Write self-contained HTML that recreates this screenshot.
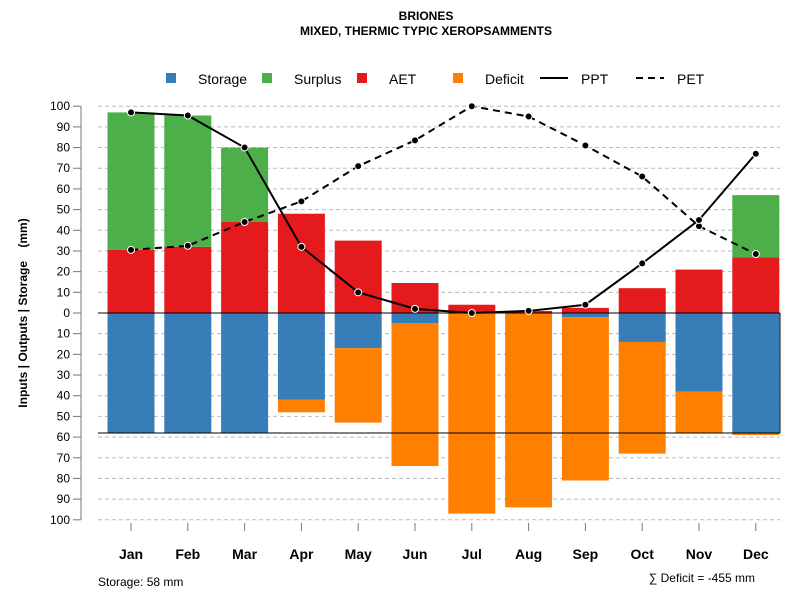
<!DOCTYPE html>
<html><head><meta charset="utf-8"><style>
body{margin:0;background:#fff;}
svg text{font-family:"Liberation Sans",Arial,sans-serif;}
</style></head><body>
<svg id="c" width="800" height="600" xmlns="http://www.w3.org/2000/svg">
<text x="426" y="20" text-anchor="middle" font-size="12" font-weight="bold">BRIONES</text>
<text x="426" y="35" text-anchor="middle" font-size="12" font-weight="bold">MIXED, THERMIC TYPIC XEROPSAMMENTS</text>
<g font-size="14">
<rect x="166" y="73" width="10" height="10" fill="#377EB8"/>
<text x="198" y="84">Storage</text>
<rect x="262" y="73" width="10" height="10" fill="#4DAF4A"/>
<text x="294" y="84">Surplus</text>
<rect x="357" y="73" width="10" height="10" fill="#E41A1C"/>
<text x="389" y="84">AET</text>
<rect x="453" y="73" width="10" height="10" fill="#FF7F00"/>
<text x="485" y="84">Deficit</text>
<line x1="540" y1="78" x2="568" y2="78" stroke="#000" stroke-width="2"/>
<text x="581" y="84">PPT</text>
<line x1="636" y1="78" x2="664" y2="78" stroke="#000" stroke-width="2" stroke-dasharray="7,5"/>
<text x="677" y="84">PET</text>
</g>
<text transform="translate(27,313) rotate(-90)" text-anchor="middle" font-size="12" font-weight="bold">Inputs | Outputs | Storage &#160;&#160;&#160;(mm)</text>
<text x="98" y="586" font-size="12">Storage: 58 mm</text>
<text x="755" y="582" text-anchor="end" font-size="12">∑ Deficit = -455 mm</text>
<g id="grid"></g><g id="bars"></g><g id="axes"></g><g id="lines"></g>
</svg>
<script>
const months=["Jan","Feb","Mar","Apr","May","Jun","Jul","Aug","Sep","Oct","Nov","Dec"];
const aet=[30.5,32,44,48,35,14.5,4,1,2.5,12,21,27];
const surplus=[66.5,63.5,36,0,0,0,0,0,0,0,0,30];
const storage=[58,58,58,42,17,5,0,0,2,14,38,58];
const deficit=[0,0,0,6,36,69,97,94,79,54,20,1];
const ppt=[97,95.5,80,32,10,2,0,1,4,24,45,77];
const pet=[30.5,32.5,44,54,71,83.5,100,95,81,66,42,28.5];
const yTicks=[100,90,80,70,60,50,40,30,20,10,0,-10,-20,-30,-40,-50,-60,-70,-80,-90,-100];
const capacity=58;
const NS="http://www.w3.org/2000/svg";
const y=v=>313-v*2.068;
const x=i=>131+i*56.8;
const bw=47,L=98,R=780;
function mk(t,a,p){const e=document.createElementNS(NS,t);for(const k in a)e.setAttribute(k,a[k]);document.getElementById(p).appendChild(e);return e;}
yTicks.forEach(v=>{
  if(v!==0){const g=mk('line',{x1:L,x2:R,y1:y(v),y2:y(v),stroke:'#bbb','stroke-dasharray':'4,3'},'grid');
  
  }
  const t=mk('line',{x1:73,x2:81,y1:y(v),y2:y(v),stroke:'#777'},'axes');
  
  
  const l=mk('text',{x:70,y:y(v)+4,'text-anchor':'end','font-size':12},'axes');l.textContent=Math.abs(v);
  
  
});
const ax=mk('line',{x1:81,x2:81,y1:y(100),y2:y(-100),stroke:'#777'},'axes');


months.forEach((m,i)=>{
  const cx=x(i),x0=cx-bw/2;
  function bar(v0,v1,c,n){if(v1===v0)return;const r=mk('rect',{x:x0,y:Math.min(y(v0),y(v1)),width:bw,height:Math.abs(y(v1)-y(v0)),fill:c},'bars');
    
    }
  bar(0,aet[i],'#E41A1C','aet');
  bar(aet[i],aet[i]+surplus[i],'#4DAF4A','surplus');
  bar(0,-storage[i],'#377EB8','storage');
  bar(-storage[i],-storage[i]-deficit[i],'#FF7F00','deficit');
  const tk=mk('line',{x1:cx,x2:cx,y1:523,y2:531,stroke:'#777'},'axes');
  
  
  const t=mk('text',{x:cx,y:559,'text-anchor':'middle','font-size':14,'font-weight':'bold'},'axes');t.textContent=m;
  
  
});
const z=mk('line',{x1:L,x2:R,y1:y(0),y2:y(0),stroke:'#000'},'axes');


const cap=mk('line',{x1:L,x2:R,y1:y(-capacity),y2:y(-capacity),stroke:'#000'},'axes');


const rv=mk('line',{x1:R,x2:R,y1:y(0),y2:y(-capacity),stroke:'#000'},'axes');


function series(d,dash,n){
  const p=mk('polyline',{points:d.map((v,i)=>x(i)+','+y(v)).join(' '),fill:'none',stroke:'#000','stroke-width':2,'stroke-dasharray':dash},'lines');
  
  
  d.forEach((v,i)=>{const c=mk('circle',{cx:x(i),cy:y(v),r:3.5,fill:'#000',stroke:'#fff','stroke-width':1},'lines');
    
    });
}
series(pet,'7,5','pet');
series(ppt,'none','ppt');
</script>
</body></html>
